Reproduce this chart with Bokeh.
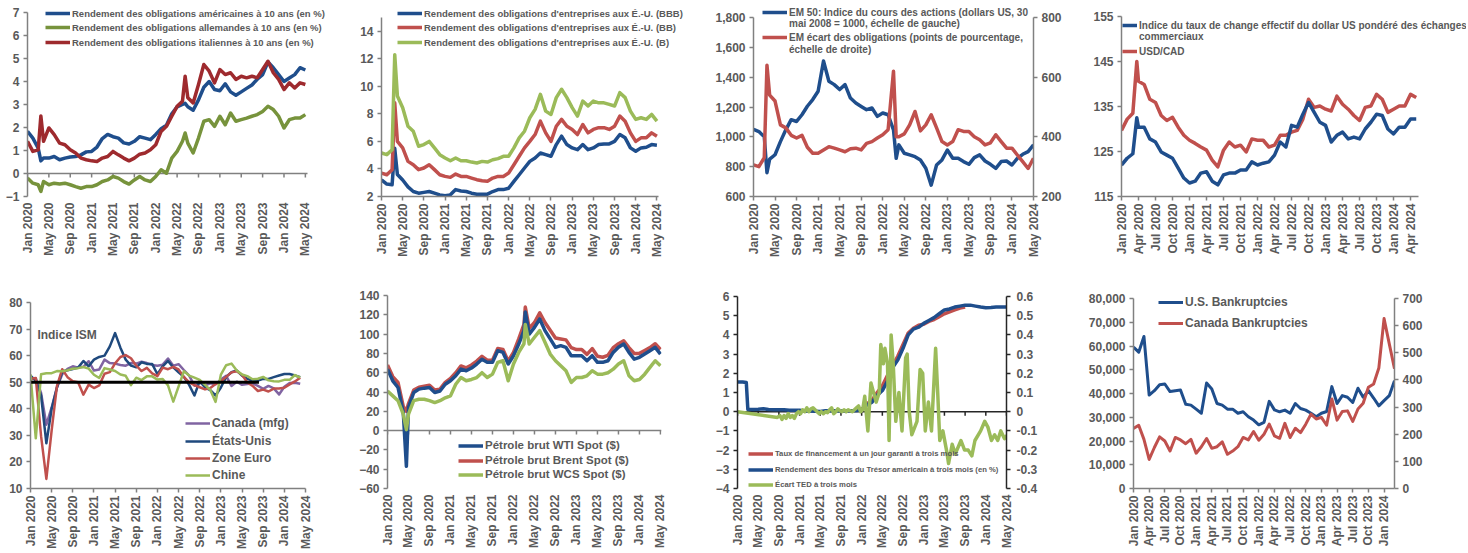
import math
from bokeh.plotting import figure
from bokeh.layouts import row, column
from bokeh.models import (Range1d, LinearAxis, FixedTicker, Legend, LegendItem, Label,
                          NumeralTickFormatter, CustomJSTickFormatter)
from bokeh.core.properties import value
from bokeh.embed import file_html
from bokeh.resources import INLINE

# ---------------- DATA ----------------
# x positions are months since Jan 2020 (0 = Jan 2020)
TICKS_4M = [0, 4, 8, 12, 16, 20, 24, 28, 32, 36, 40, 44, 48, 52]
LABELS_4M = ["Jan 2020", "May 2020", "Sep 2020", "Jan 2021", "May 2021", "Sep 2021", "Jan 2022",
             "May 2022", "Sep 2022", "Jan 2023", "May 2023", "Sep 2023", "Jan 2024", "May 2024"]
TICKS_Q = [0, 3, 6, 9, 12, 15, 18, 21, 24, 27, 30, 33, 36, 39, 42, 45, 48, 51]
LABELS_Q = ["Jan 2020", "Apr 2020", "Jul 2020", "Oct 2020", "Jan 2021", "Apr 2021", "Jul 2021", "Oct 2021",
            "Jan 2022", "Apr 2022", "Jul 2022", "Oct 2022", "Jan 2023", "Apr 2023", "Jul 2023", "Oct 2023",
            "Jan 2024", "Apr 2024"]

# Panel 1: 10-year government bond yields (%)
P1_X = [0, 1, 2, 2.5, 3, 4, 5, 6, 7, 8, 9, 10, 11, 12, 13, 14, 15, 16, 17, 18, 19, 20, 21, 22, 23, 24, 25,
        26, 27, 28, 29, 29.5, 30, 31, 32, 33, 34, 35, 36, 37, 38, 39, 40, 41, 42, 43, 44, 45, 46, 47, 48,
        49, 50, 51, 52]
US10 = [1.83, 1.54, 1.1, 0.55, 0.67, 0.67, 0.74, 0.6, 0.67, 0.72, 0.74, 0.81, 0.94, 0.96, 1.15, 1.52, 1.7,
        1.6, 1.54, 1.33, 1.28, 1.4, 1.6, 1.54, 1.47, 1.7, 1.95, 2.1, 2.6, 2.9, 3.0, 3.05, 2.9, 2.75, 3.2,
        3.75, 4.0, 3.65, 3.6, 3.9, 3.55, 3.4, 3.55, 3.7, 3.85, 4.1, 4.3, 4.85, 4.6, 4.3, 4.0, 4.15, 4.3,
        4.6, 4.5]
DE10 = [-0.2, -0.42, -0.49, -0.78, -0.35, -0.49, -0.42, -0.46, -0.42, -0.49, -0.57, -0.64, -0.57, -0.57,
        -0.49, -0.35, -0.28, -0.13, -0.2, -0.35, -0.46, -0.28, -0.13, -0.28, -0.35, -0.13, 0.16, 0.01, 0.67,
        0.96, 1.4, 1.76, 1.32, 0.89, 1.54, 2.27, 2.34, 2.05, 2.49, 2.12, 2.63, 2.27, 2.34, 2.41, 2.49, 2.56,
        2.7, 2.92, 2.78, 2.49, 1.98, 2.34, 2.41, 2.41, 2.56]
IT10 = [1.4, 0.96, 1.03, 2.5, 1.4, 1.98, 1.69, 1.32, 1.25, 1.03, 0.89, 0.67, 0.6, 0.55, 0.52, 0.67, 0.74,
        0.96, 0.81, 0.67, 0.55, 0.67, 0.84, 0.89, 1.03, 1.25, 1.83, 2.05, 2.49, 2.92, 3.14, 4.23, 3.29, 3.07,
        3.87, 4.74, 4.45, 3.94, 4.52, 4.3, 4.38, 4.09, 4.23, 4.16, 4.23, 4.16, 4.52, 4.88, 4.38, 4.09, 3.65,
        3.94, 3.72, 3.94, 3.87]

# Panel 2: US corporate bond yields (%)
P2_X = [0, 1, 2, 2.5, 3, 4, 5, 6, 7, 8, 9, 10, 11, 12, 13, 14, 15, 16, 17, 18, 19, 20, 21, 22, 23, 24, 25,
        26, 27, 28, 29, 30, 31, 32, 33, 34, 35, 36, 37, 38, 39, 40, 41, 42, 43, 44, 45, 46, 47, 48, 49, 50,
        51, 52]
BBB = [3.2, 2.9, 2.85, 5.5, 3.6, 3.2, 2.7, 2.36, 2.24, 2.3, 2.36, 2.24, 2.12, 2.05, 2.12, 2.5, 2.4, 2.36,
       2.24, 2.17, 2.17, 2.17, 2.36, 2.5, 2.5, 2.6, 3.1, 3.58, 4.07, 4.55, 4.8, 5.16, 5.04, 4.92, 5.77, 6.38,
       5.77, 5.53, 5.4, 5.77, 5.4, 5.53, 5.77, 5.82, 5.82, 6.0, 6.5, 6.26, 5.53, 5.28, 5.53, 5.58, 5.77, 5.72]
BB = [3.7, 3.58, 3.95, 8.8, 6.0, 5.53, 4.55, 4.31, 3.95, 4.07, 4.31, 3.95, 3.58, 3.46, 3.39, 3.63, 3.46, 3.46,
      3.34, 3.22, 3.14, 3.1, 3.34, 3.46, 3.46, 3.7, 4.31, 4.92, 5.53, 6.0, 6.5, 7.47, 6.62, 6.0, 7.1, 7.6, 7.1,
      6.87, 6.5, 7.23, 6.62, 6.87, 7.0, 7.0, 6.87, 7.1, 7.84, 7.47, 6.62, 6.0, 6.26, 6.26, 6.62, 6.38]
B = [5.16, 5.04, 5.4, 12.3, 9.3, 8.45, 7.1, 6.74, 5.65, 5.77, 6.0, 5.53, 5.04, 4.8, 4.6, 4.8, 4.6, 4.6, 4.5,
     4.43, 4.55, 4.5, 4.67, 4.75, 4.92, 4.92, 5.53, 6.26, 6.74, 7.72, 8.33, 9.42, 8.2, 7.96, 9.18, 9.79, 9.18,
     8.45, 7.84, 8.93, 8.57, 8.93, 8.8, 8.8, 8.69, 8.57, 9.54, 9.18, 8.2, 7.6, 7.72, 7.6, 7.96, 7.47]

# Panel 3: EM equities (left) and EM bond spread (right)
P3_X = [0, 1, 2, 2.5, 3, 4, 5, 6, 7, 8, 9, 10, 11, 12, 13, 14, 15, 16, 17, 18, 19, 20, 21, 22, 23, 24, 25,
        26, 26.5, 27, 28, 29, 30, 31, 32, 33, 34, 35, 36, 37, 38, 39, 40, 41, 42, 43, 44, 45, 46, 47, 48, 49,
        50, 51, 52]
EM50 = [1050, 1035, 1000, 760, 850, 880, 968, 1047, 1115, 1103, 1148, 1205, 1250, 1306, 1508, 1373, 1350,
        1317, 1350, 1260, 1227, 1204, 1182, 1193, 1137, 1160, 1148, 1047, 856, 946, 890, 879, 867, 845, 789,
        676, 811, 845, 912, 856, 856, 834, 816, 861, 879, 838, 816, 789, 834, 838, 811, 856, 883, 901, 946]
EMSP = [306, 300, 330, 640, 540, 520, 440, 430, 405, 396, 405, 365, 345, 345, 356, 367, 362, 356, 350, 360,
        362, 356, 378, 384, 396, 407, 424, 620, 400, 400, 410, 440, 485, 420, 440, 474, 430, 384, 373, 384,
        424, 418, 418, 400, 390, 373, 380, 407, 384, 362, 362, 339, 317, 294, 328]

# Panel 4: trade-weighted USD index and USD/CAD (x100)
P4_X = [0, 1, 2, 2.7, 3, 4, 5, 6, 7, 8, 9, 10, 11, 12, 13, 14, 15, 16, 17, 18, 19, 20, 21, 22, 23, 24, 25,
        26, 27, 28, 29, 30, 31, 32, 33, 34, 35, 36, 37, 38, 39, 40, 41, 42, 43, 44, 45, 46, 47, 48, 49, 50,
        51, 52]
TWI = [122, 123.5, 124.5, 132.5, 130.4, 130.4, 127.8, 127.1, 124.9, 124.2, 123.5, 121.3, 119.1, 118, 118.4,
       120.2, 120.5, 118.4, 117.6, 119.8, 120.2, 120.2, 120.9, 120.9, 122.7, 122, 122.4, 122.7, 124.2, 127.1,
       126, 130.8, 130.4, 133.3, 135.9, 133.7, 131.5, 130.8, 127.1, 128.6, 129.3, 127.8, 128.2, 127.8, 130,
       131.5, 133.3, 133, 130, 128.9, 130.4, 130.4, 132.2, 132.2]
USDCAD = [129.7, 132.2, 133.5, 145, 140.6, 139.9, 136.6, 135.9, 133, 131.9, 132.6, 130.4, 128.6, 127.5,
          126.8, 126, 125.3, 123.1, 121.6, 125.3, 127.1, 126, 126.4, 124.9, 127.8, 127.5, 127.5, 126, 126.4,
          128.6, 128.6, 129.3, 129.7, 132.2, 136.6, 134.8, 135.1, 134.4, 134, 137.3, 135.5, 134.4, 133,
          131.9, 134.8, 135.1, 137.7, 136.6, 133.7, 134.4, 135.1, 135.1, 137.7, 137]

# Panel 5: ISM / PMI indices (monthly)
P5_X = list(range(52))
CAN_PMI = [51, 51.5, 46, 34, 40.5, 48, 53, 55, 56, 55.5, 55.8, 57.9, 54.4, 54.8, 58.5, 57.2, 57, 56.5, 56.2,
           57.2, 57, 57.7, 57.2, 56.5, 56.2, 56.6, 58.9, 56.2, 56.8, 54.6, 52.5, 48.7, 49.8, 48.8, 49.6, 49.2,
           51, 52.4, 48.6, 50.2, 49, 49.3, 49.6, 48.6, 47.5, 48.6, 47.7, 45.4, 48.3, 49.7, 49.8, 49.4]
US_PMI = [52.5, 50.5, 45, 27, 40, 48, 54, 54.5, 55, 55.5, 58, 56, 58.5, 59.5, 60, 63.5, 68.5, 63, 58.5, 56.25,
          55.6, 57.5, 56.9, 56.9, 53, 56, 58, 55.6, 53.75, 52, 49, 45, 50.5, 48, 47, 45, 48, 52, 53.75, 54.4,
          52.5, 51.25, 50.6, 50.6, 51.25, 51.25, 51.9, 52.5, 53.1, 53.1, 52.5, 51.9]
EUR_PMI = [51.3, 51.6, 29.7, 13.6, 31.9, 48.5, 54.9, 51.9, 50.4, 50.0, 45.3, 49.1, 47.8, 48.8, 53.2, 53.8,
           57.1, 59.5, 60.2, 59.0, 56.2, 54.2, 55.4, 53.3, 52.3, 55.5, 54.9, 55.8, 54.8, 52.0, 49.9, 48.9,
           48.1, 47.3, 47.8, 49.3, 50.3, 52.0, 53.7, 54.1, 52.8, 49.9, 48.6, 46.7, 47.2, 46.5, 47.6, 47.6,
           47.9, 49.2, 50.3, 51.7]
CHN_PMI = [53.0, 28.9, 53.0, 53.4, 53.4, 54.2, 54.1, 54.5, 55.1, 55.3, 55.7, 55.1, 52.8, 51.6, 55.3, 54.8,
           54.2, 52.9, 52.4, 48.9, 51.7, 50.8, 52.2, 52.2, 51.0, 51.2, 48.8, 42.7, 48.4, 54.1, 52.5, 51.7,
           50.9, 49.0, 47.1, 42.6, 52.9, 56.4, 57.0, 54.4, 52.9, 52.3, 51.1, 51.3, 52.0, 50.7, 50.4, 50.3,
           50.9, 50.9, 52.7, 51.7]
ISM_REF_X = [0, 43.2]
ISM_REF_Y = [50, 50]

# Panel 6: crude oil spot prices ($)
P6_X = [0, 1, 2, 3, 3.6, 4, 5, 6, 7, 8, 9, 10, 11, 12, 13, 14, 15, 16, 17, 18, 19, 20, 21, 22, 23, 24, 25,
        26, 26.25, 27, 28, 29, 30, 31, 32, 33, 34, 35, 36, 37, 38, 39, 40, 41, 42, 43, 44, 45, 46, 47, 48,
        49, 50, 51, 52]
WTI = [63.7, 51.6, 44.7, 19, -37, 24, 39.5, 43, 44, 44.7, 39.5, 41, 48, 51.6, 56.8, 63.7, 62, 64.8, 69, 74,
       70.7, 70.7, 82.8, 81, 69, 77.6, 89.7, 103.6, 123, 100, 107, 115.7, 103.6, 95, 86.3, 88, 86.3, 77.6,
       77.6, 77.6, 72.4, 77.6, 70.7, 70.7, 72.4, 81, 86.3, 89.7, 81, 74, 75.9, 79.3, 82.8, 86.3, 79.3]
BRENT = [68, 56, 50, 25, 20, 28, 42, 45, 46, 47, 42, 43, 50, 54, 60, 67, 65, 68, 72, 77, 73, 73, 85, 84, 72,
         81, 95, 110, 128, 106, 112, 122, 112, 104, 96, 95, 94, 86, 84, 84, 79, 85, 77, 76, 78, 86, 90, 93,
         86, 80, 80, 83, 86, 90, 84]
WCS = [41, 36, 31, 17, 1, 17, 31, 32.5, 32.5, 31, 29, 31, 34, 36, 48, 55, 51.6, 53, 55, 60, 55, 58.5, 70.7,
       72.4, 51.6, 69, 81, 90, 110, 89.7, 96.7, 103.6, 91.5, 79.3, 72.4, 67.2, 62, 50, 55, 55, 56.8, 62, 58.5,
       58.5, 60, 63.7, 69, 72.4, 56.8, 51.6, 53, 58.5, 65.5, 72.4, 67.2]

# Panel 7: money-market rates (left, %) and TED spread (right)
TB_X = [0, 1, 1.7, 2, 3, 4, 5, 6, 7, 8, 9, 10, 11, 12, 13, 14, 15, 16, 17, 18, 19, 20, 21, 22, 23, 24, 25,
        26, 27, 28, 29, 30, 31, 32, 33, 34, 35, 36, 37, 38, 39, 40, 41, 42, 43, 44, 45, 46, 47, 48, 49, 50,
        51, 52]
TBILL = [1.55, 1.55, 1.52, 0.12, 0.12, 0.13, 0.15, 0.12, 0.1, 0.1, 0.1, 0.08, 0.08, 0.08, 0.04, 0.03, 0.02,
         0.01, 0.05, 0.05, 0.05, 0.04, 0.05, 0.05, 0.06, 0.1, 0.35, 0.5, 0.85, 1.1, 1.6, 2.3, 2.7, 3.3, 4.0,
         4.3, 4.4, 4.6, 4.75, 4.9, 5.1, 5.3, 5.35, 5.45, 5.5, 5.55, 5.55, 5.5, 5.45, 5.42, 5.43, 5.45, 5.45,
         5.45]
REPO_X = [24, 25, 26, 27, 28, 29, 30, 31, 32, 33, 34, 35, 36, 37, 38, 39, 40, 41, 42, 43, 44]
REPO = [0.1, 0.4, 0.6, 1.0, 1.35, 1.9, 2.4, 2.9, 3.5, 4.1, 4.35, 4.5, 4.55, 4.7, 4.8, 4.95, 5.1, 5.2, 5.3,
        5.4, 5.45]
TED_X = [0, 7.7, 8.2, 8.6, 9.0, 9.4, 9.8, 10.2, 10.6, 11.0, 11.4, 11.8, 12.2, 12.6, 13.0, 13.4, 13.8, 14.2,
         14.6, 15.0, 15.4, 15.8, 16.2, 16.6, 17.0, 17.4, 17.8, 18.2, 18.6, 19.0, 19.4, 19.8, 20.2, 20.6, 21.0,
         21.4, 21.8, 22.2, 22.6, 23.0, 23.4, 23.8, 24.2, 24.6, 25.2, 25.8, 26.8, 27.4, 27.7, 28.2, 28.5, 29.0,
         29.3, 29.7, 30.1, 30.6, 31.2, 31.8, 32.5, 32.8, 33.2, 33.7, 34.7, 35.3, 35.8, 36.3, 36.9, 37.5, 38.3,
         38.7, 39.1, 39.7, 40.4, 40.8, 41.5, 42.1, 43.2, 43.9, 44.6, 45.3, 45.9, 47.0, 47.8, 48.4, 49.1, 49.7,
         50.3, 50.9, 51.6, 52.2]
TED = [0.0, -0.03, -0.02, -0.04, -0.02, -0.035, -0.01, -0.03, -0.02, -0.035, -0.01, 0.0, -0.01, 0.01, 0.0,
       0.02, 0.0, 0.015, 0.02, 0.01, 0.0, -0.01, 0.0, -0.01, 0.0, -0.005, 0.01, 0.02, -0.01, 0.0, 0.015,
       0.005, 0.0, 0.01, 0.0, 0.01, 0.005, 0.0, 0.01, 0.02, 0.03, 0.0, 0.01, 0.08, -0.1, 0.15, 0.05, 0.1,
       0.35, 0.25, 0.33, 0.25, -0.15, 0.4, 0.25, -0.05, 0.1, -0.1, 0.28, 0.3, 0.0, -0.12, -0.05, 0.22, 0.2,
       -0.1, 0.05, -0.1, 0.33, 0.1, -0.15, -0.1, -0.2, -0.27, -0.17, -0.22, -0.15, -0.2, -0.2, -0.23, -0.15,
       -0.1, -0.05, -0.08, -0.15, -0.12, -0.15, -0.1, -0.14, -0.12]

# Panel 8: bankruptcies (monthly)
P8_X = list(range(51))
US_BK = [59500, 57400, 64000, 39350, 41200, 43700, 44000, 40800, 41200, 41500, 35500, 35100, 33400, 31700,
         44400, 41900, 35800, 35100, 33400, 33400, 31700, 32300, 30200, 28800, 26800, 27800, 36700, 33100,
         32300, 33000, 31700, 35800, 33700, 33000, 31700, 30200, 31700, 32400, 42900, 35800, 39100, 38400,
         36200, 42200, 38400, 41200, 38100, 34800, 37000, 39100, 45400]
CA_BK = [221, 233, 181, 107, 151, 190, 175, 138, 188, 179, 165, 181, 130, 154, 184, 148, 154, 172, 126, 138,
         154, 188, 179, 210, 178, 200, 237, 194, 185, 240, 188, 222, 206, 237, 274, 256, 262, 233, 330, 252,
         284, 286, 247, 293, 314, 373, 385, 444, 626, 533, 441]

# ---------------- STYLE ----------------
FONT = "Liberation Sans"
TXT = "#595959"
AXC = "#808080"
BLUE = "#1f4e8c"
NAVY = "#1f497d"
RED = "#c0504d"
DRED = "#9e2a2e"
GREEN = "#9bbb59"
OLIVE = "#77933c"
PURPLE = "#8064a2"


def style_axis(ax, color=AXC, fs="12px", standoff=4):
    ax.axis_line_color = color
    ax.axis_line_width = 1.5
    ax.major_tick_line_color = color
    ax.major_tick_line_width = 1.5
    ax.major_tick_out = 4
    ax.major_tick_in = 0
    ax.minor_tick_line_color = None
    ax.major_label_text_font = FONT
    ax.major_label_text_font_style = "bold"
    ax.major_label_text_font_size = fs
    ax.major_label_text_color = TXT
    ax.major_label_standoff = standoff


def make(w, h, L, R, T, Bm, top_px, xr, yr, yticks, xticks, xlabels, zero=False, axc=AXC, ext_right=0):
    """Frame spans T..h-Bm (same for all plots of a row); yr[1] is drawn at top_px."""
    fw = w - L - R
    axis_px = (h - Bm) - top_px
    ppu = axis_px / (yr[1] - yr[0])
    y_end = yr[1] + (top_px - T) / ppu
    x_end = xr[1] + ext_right * (xr[1] - xr[0]) / fw
    p = figure(width=w, height=h, x_range=Range1d(xr[0], x_end), y_range=Range1d(yr[0], y_end),
               output_backend="svg", toolbar_location=None, min_border_left=L, min_border_right=R - ext_right,
               min_border_top=T, min_border_bottom=Bm)
    p.outline_line_color = None
    p.xgrid.visible = False
    p.ygrid.visible = False
    ya = p.yaxis[0]
    ya.ticker = FixedTicker(ticks=yticks, minor_ticks=[])
    ya.bounds = (yr[0], yr[1])
    style_axis(ya, axc)
    xa = p.xaxis[0]
    xa.ticker = FixedTicker(ticks=xticks, minor_ticks=[])
    xa.bounds = (xr[0], xr[1])
    style_axis(xa, axc, standoff=3)
    xa.major_label_overrides = {t: l for t, l in zip(xticks, xlabels)}
    xa.major_label_orientation = math.pi / 2
    if zero:
        xa.axis_line_color = None
        xa.major_tick_line_color = None
        xa.major_tick_out = 0
        xa.major_label_standoff = 6
        p.segment(x0=[xr[0]], y0=[0], x1=[xr[1]], y1=[0], line_color=axc, line_width=1.5)
        dy = 4.0 / ppu
        p.segment(x0=xticks, y0=[0] * len(xticks), x1=xticks, y1=[-dy] * len(xticks),
                  line_color=axc, line_width=1.5)
    p._geo = (top_px, T, axis_px)
    return p


def add_right(p, name, a, b, ticks, axc=AXC, standoff=4):
    top_px, T, axis_px = p._geo
    end = b + (top_px - T) * (b - a) / axis_px
    p.extra_y_ranges = {name: Range1d(a, end)}
    ax = LinearAxis(y_range_name=name, ticker=FixedTicker(ticks=ticks, minor_ticks=[]), bounds=(a, b))
    style_axis(ax, axc, standoff=standoff)
    p.add_layout(ax, "right")
    return ax


def ln(p, x, y, color, width, **kw):
    n = min(len(x), len(y))
    return p.line(x[:n], y[:n], line_color=color, line_width=width, line_join="round", **kw)


def leg(p, r, text, gx, gy, fl, fb, fs, H=14, gw=25):
    lg = Legend(items=[LegendItem(label=value(text), renderers=[r])],
                location=(gx - fl, fb - gy - H / 2.0), orientation="vertical",
                padding=0, margin=0, spacing=0, border_line_color=None,
                background_fill_alpha=0, glyph_width=gw, glyph_height=H, label_height=H,
                label_standoff=2, label_text_font=FONT, label_text_font_style="bold",
                label_text_font_size=fs, label_text_color=TXT)
    p.add_layout(lg)


def dummy(p):
    return p.line([0, 0.001], [0, 0], line_alpha=0)


# ---------------- ROW 1 ----------------
H1, T1, B1 = 280, 5, 84
FB1 = H1 - B1
# Panel 1
p1 = make(355, H1, 27, 48, T1, B1, 12, (0, 52.4), (-1, 7), list(range(-1, 8)), TICKS_4M, LABELS_4M,
          zero=True, ext_right=28)
r = ln(p1, P1_X, US10, BLUE, 3.5)
g = ln(p1, P1_X, DE10, OLIVE, 3.5)
i = ln(p1, P1_X, IT10, DRED, 3.5)
leg(p1, r, "Rendement des obligations américaines à 10 ans (en %)", 45, 13, 27, FB1, "9.5px")
leg(p1, g, "Rendement des obligations allemandes à 10 ans (en %)", 45, 27, 27, FB1, "9.5px")
leg(p1, i, "Rendement des obligations italiennes à 10 ans (en %)", 45, 42, 27, FB1, "9.5px")

# Panel 2
p2 = make(357, H1, 26, 54, T1, B1, 17, (0, 52.3), (2, 15), list(range(2, 15, 2)), TICKS_4M, LABELS_4M,
          ext_right=32)
r1 = ln(p2, P2_X, BBB, BLUE, 3.5)
r2 = ln(p2, P2_X, BB, RED, 3.5)
r3 = ln(p2, P2_X, B, GREEN, 3.5)
leg(p2, r1, "Rendement des obligations d'entreprises aux É.-U. (BBB)", 397, 13, 381, FB1, "9.5px")
leg(p2, r2, "Rendement des obligations d'entreprises aux É.-U. (BB)", 397, 27, 381, FB1, "9.5px")
leg(p2, r3, "Rendement des obligations d'entreprises aux É.-U. (B)", 397, 42, 381, FB1, "9.5px")

# Panel 3
p3 = make(373, H1, 38, 52, T1, B1, 17, (0, 52), (600, 1800), list(range(600, 1801, 200)), TICKS_4M,
          LABELS_4M)
p3.yaxis[0].formatter = NumeralTickFormatter(format="0,0")
add_right(p3, "r", 200, 800, [200, 400, 600, 800])
e1 = ln(p3, P3_X, EM50, BLUE, 3.5)
e2 = ln(p3, P3_X, EMSP, RED, 3.5, y_range_name="r")
leg(p3, e1, "EM 50: Indice du cours des actions (dollars US, 30", 759, 12, 750, FB1, "10px", H=12)
leg(p3, dummy(p3), "mai 2008 = 1000, échelle de gauche)", 759, 23, 750, FB1, "10px", H=12)
leg(p3, e2, "EM écart des obligations (points de pourcentage,", 759, 37, 750, FB1, "10px", H=12)
leg(p3, dummy(p3), "échelle de droite)", 759, 49, 750, FB1, "10px", H=12)

# Panel 4
p4 = make(381, H1, 36, 48, T1, B1, 16, (0, 52.4), (115, 155), [115, 125, 135, 145, 155], TICKS_Q, LABELS_Q,
          ext_right=48)
c2 = ln(p4, P4_X, USDCAD, RED, 3.5)
c1 = ln(p4, P4_X, TWI, BLUE, 3.5)
leg(p4, c1, "Indice du taux de change effectif du dollar US pondéré des échanges", 1122, 25, 1121, FB1,
    "10px", H=12, gw=15)
leg(p4, dummy(p4), "commerciaux", 1122, 36, 1121, FB1, "10px", H=12, gw=15)
leg(p4, c2, "USD/CAD", 1122, 51, 1121, FB1, "10px", H=12, gw=15)

# ---------------- ROW 2 ----------------
H2, T2, B2 = 272, 11, 64
FB2 = 280 + H2 - B2
# Panel 5
p5 = make(355, H2, 30, 50, T2, B2, 22, (0, 52), (10, 80), list(range(10, 81, 10)), TICKS_4M, LABELS_4M)
k1 = ln(p5, P5_X, CAN_PMI, PURPLE, 2.5)
k2 = ln(p5, P5_X, US_PMI, NAVY, 2.5)
k3 = ln(p5, P5_X, EUR_PMI, RED, 2.5)
k4 = ln(p5, P5_X, CHN_PMI, GREEN, 2.5)
p5.line(ISM_REF_X, ISM_REF_Y, line_color="black", line_width=3)
p5.add_layout(Label(x=1.3, y=67.6, text="Indice ISM", text_font=FONT, text_font_style="bold",
                    text_font_size="12px", text_color=TXT, text_baseline="middle"))
leg(p5, k1, "Canada (mfg)", 185, 423, 30, FB2, "12px", H=16)
leg(p5, k2, "États-Unis", 185, 441, 30, FB2, "12px", H=16)
leg(p5, k3, "Zone Euro", 185, 458, 30, FB2, "12px", H=16)
leg(p5, k4, "Chine", 185, 475, 30, FB2, "12px", H=16)

# Panel 6
p6 = make(357, H2, 32, 51, T2, B2, 15, (0, 52.2), (-60, 140), list(range(-60, 141, 20)), TICKS_4M,
          LABELS_4M, zero=True)
o2 = ln(p6, P6_X, BRENT, RED, 3.5)
o1 = ln(p6, P6_X, WTI, BLUE, 3.5)
o3 = ln(p6, P6_X, WCS, GREEN, 3.5)
leg(p6, o1, "Pétrole brut WTI Spot ($)", 458, 445, 387, FB2, "11.5px", H=15)
leg(p6, o2, "Pétrole brut Brent Spot ($)", 458, 460, 387, FB2, "11.5px", H=15)
leg(p6, o3, "Pétrole brut WCS Spot ($)", 458, 474, 387, FB2, "11.5px", H=15)

# Panel 7
AX7 = "#262626"
p7 = make(373, H2, 19, 79, T2, B2, 16, (0, 52), (-4, 6), list(range(-4, 7)), TICKS_4M, LABELS_4M,
          zero=True, axc=AX7)
ax7 = add_right(p7, "r", -0.4, 0.6, [-0.4, -0.3, -0.2, -0.1, 0, 0.1, 0.2, 0.3, 0.4, 0.5, 0.6], axc=AX7,
                standoff=6)
ax7.formatter = CustomJSTickFormatter(code="return (Math.round(tick*10)/10).toString();")
t1 = ln(p7, REPO_X, REPO, RED, 3.5)
t2 = ln(p7, TB_X, TBILL, BLUE, 3.5)
t3 = ln(p7, TED_X, TED, GREEN, 3.5, y_range_name="r")
leg(p7, t1, "Taux de financement à un jour garanti à trois mois", 742, 453, 731, FB2, "7.7px", H=11)
leg(p7, t2, "Rendement des bons du Trésor américain à trois mois (en %)", 742, 469, 731, FB2, "7.7px",
    H=11)
leg(p7, t3, "Écart TED à trois mois", 742, 484, 731, FB2, "7.7px", H=11)

# Panel 8
p8 = make(381, H2, 43, 72, T2, B2, 18, (0, 50), (0, 80000), list(range(0, 80001, 10000)), TICKS_Q[:17],
          LABELS_Q[:17])
p8.yaxis[0].formatter = NumeralTickFormatter(format="0,0")
add_right(p8, "r", 0, 700, list(range(0, 701, 100)))
b1 = ln(p8, P8_X, US_BK, BLUE, 3)
b2 = ln(p8, P8_X, CA_BK, RED, 3, y_range_name="r")
leg(p8, b1, "U.S. Bankruptcies", 1153, 302, 1128, FB2, "12px", H=16)
leg(p8, b2, "Canada Bankruptcies", 1153, 323, 1128, FB2, "12px", H=16)

layout = column(row(p1, p2, p3, p4), row(p5, p6, p7, p8))
open("out.html", "w").write(file_html(layout, INLINE))
